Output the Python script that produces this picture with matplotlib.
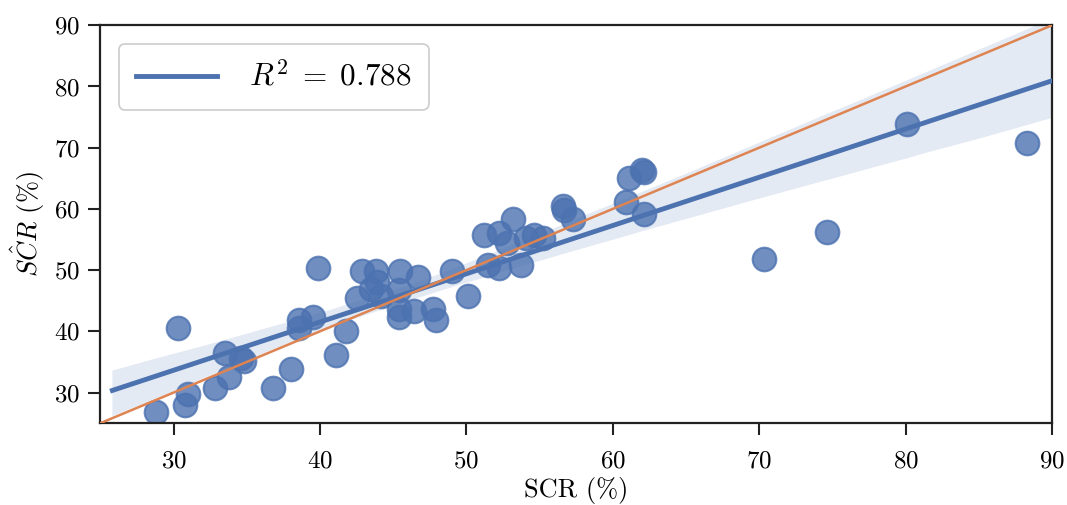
import numpy as np
import pandas as pd
import matplotlib
matplotlib.use("Agg")
import matplotlib.pyplot as plt
import seaborn as sns

plt.rcParams.update({
    "font.family": "serif",
    "font.serif": ["cmr10"],
    "mathtext.fontset": "cm",
    "axes.formatter.use_mathtext": True,
    "axes.unicode_minus": False,
})

# Measured SCR vs. predicted SCR (percent)
scr = [28.8, 30.8, 31.0, 30.3, 32.8, 33.5, 33.8, 34.6, 34.8, 36.8,
       38.0, 38.6, 38.6, 39.5, 39.9, 41.8, 41.1, 42.5, 42.9, 43.5,
       43.8, 43.9, 44.2, 45.5, 45.4, 45.4, 45.4, 46.4, 46.7, 47.7,
       47.9, 49.0, 50.1, 51.2, 51.5, 52.2, 52.2, 52.8, 53.2, 53.7,
       54.1, 54.6, 55.2, 56.6, 56.7, 57.3, 60.9, 61.1, 62.0, 62.1,
       62.1, 70.3, 74.6, 80.1, 88.3]
scr_hat = [26.9, 27.9, 29.7, 40.6, 30.8, 36.5, 32.5, 35.7, 35.1, 30.8,
           33.8, 41.8, 40.5, 42.3, 50.3, 40.1, 36.1, 45.5, 49.9, 47.0,
           49.8, 48.1, 45.7, 49.8, 46.7, 43.6, 42.4, 43.4, 48.8, 43.7,
           41.8, 49.9, 45.7, 55.7, 50.8, 50.4, 56.0, 54.4, 58.4, 50.8,
           55.2, 55.7, 55.3, 60.4, 59.8, 58.4, 61.2, 65.0, 66.3, 66.0,
           59.1, 51.9, 56.2, 73.8, 70.7]
r2_label = 0.788

df = pd.DataFrame({"scr": scr, "scr_hat": scr_hat})

blue = "#4C72B0"
orange = "#DD8452"

fig = plt.figure(figsize=(10.67, 5.05), dpi=100)
ax = fig.add_axes([0.094, 0.162, 0.892, 0.788])

sns.regplot(data=df, x="scr", y="scr_hat", ax=ax, color=blue,
            truncate=False, ci=95, n_boot=1000, seed=3,
            scatter_kws=dict(s=290, alpha=0.8, edgecolors=blue,
                             linewidths=1.5, zorder=2),
            line_kws=dict(lw=3.5, zorder=3,
                          label=r"$R^2 \;=\; %.3f$" % r2_label))

lims = (25, 90)
ax.plot(lims, lims, color=orange, lw=1.8, zorder=4)

ax.set_xlim(*lims)
ax.set_ylim(*lims)
ax.set_xticks([30, 40, 50, 60, 70, 80, 90])
ax.set_yticks([30, 40, 50, 60, 70, 80, 90])
ax.tick_params(labelsize=18, length=8.5, width=1.5, color="#222222",
               direction="out")
ax.tick_params(axis="x", pad=11)
ax.tick_params(axis="y", pad=6)
for sp in ax.spines.values():
    sp.set_linewidth(1.6)
    sp.set_color("#222222")

ax.set_xlabel("SCR (%)", fontsize=19, labelpad=3)
ax.set_ylabel(r"$S\hat{C}R$ (%)", fontsize=19, labelpad=5)

leg = ax.legend(loc="upper left", fontsize=22.5, handlelength=2.6,
                borderpad=0.55, handletextpad=1.0, fancybox=True,
                framealpha=1.0, borderaxespad=0.6)
leg.get_frame().set_edgecolor("#cccccc")
leg.get_frame().set_linewidth(1.2)

fig.savefig("out.png", dpi=100)
